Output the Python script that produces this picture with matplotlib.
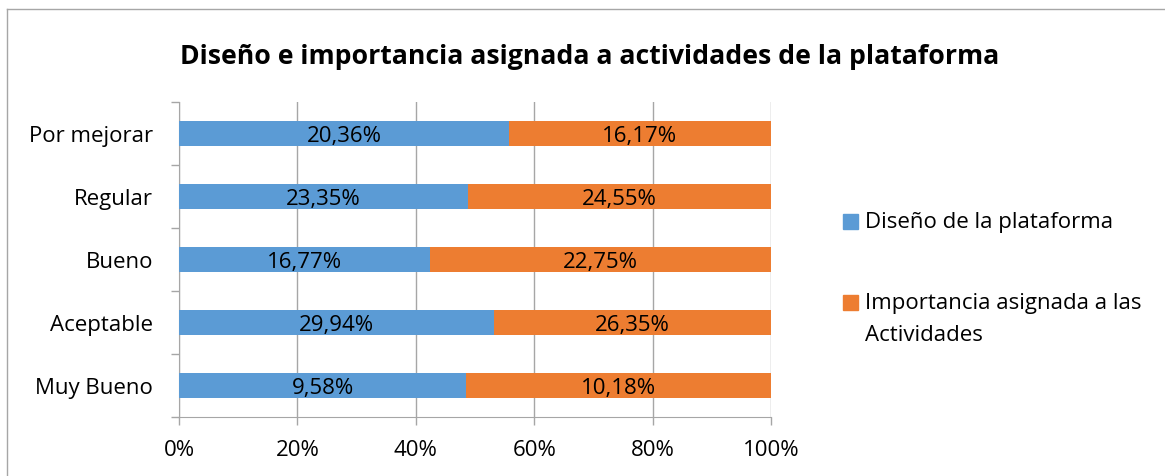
import matplotlib.pyplot as plt
import numpy as np
from matplotlib.patches import Rectangle

plt.rcParams['font.family'] = ['Open Sans', 'DejaVu Sans']

categorias = ["Muy Bueno", "Aceptable", "Bueno", "Regular", "Por mejorar"]
diseno = [9.58, 29.94, 16.77, 23.35, 20.36]
importancia = [10.18, 26.35, 22.75, 24.55, 16.17]
series = ["Diseño de la plataforma", "Importancia asignada a las\nActividades"]
colores = ["#5B9BD5", "#ED7D31"]

fig = plt.figure(figsize=(11.65, 4.77), dpi=100)
ax = fig.add_axes([179 / 1165, 1 - 418 / 477, (771 - 179) / 1165, (418 - 103) / 477])

d = np.array(diseno)
im = np.array(importancia)
tot = d + im
pd_ = d / tot * 100
pi_ = im / tot * 100
y = np.arange(len(categorias))

ax.barh(y, pd_, height=0.4, color=colores[0], label=series[0], zorder=3)
ax.barh(y, pi_, left=pd_, height=0.4, color=colores[1], label=series[1], zorder=3)

fs = 16
for i in range(len(categorias)):
    ax.text(pd_[i] / 2, y[i] - 0.03, f"{diseno[i]:.2f}%".replace(".", ","),
            ha="center", va="center", fontsize=fs, zorder=4)
    ax.text(pd_[i] + pi_[i] / 2, y[i] - 0.03, f"{importancia[i]:.2f}%".replace(".", ","),
            ha="center", va="center", fontsize=fs, zorder=4)

ax.set_xlim(0, 100)
ax.set_ylim(-0.5, len(categorias) - 0.5)
ax.set_xticks(np.arange(0, 101, 20))
ax.set_xticklabels([f"{v}%" for v in range(0, 101, 20)], fontsize=fs)
ax.set_yticks(y)
ax.set_yticklabels(categorias, fontsize=fs)
ax.set_yticks(np.arange(-0.5, len(categorias), 1), minor=True)
ax.tick_params(axis="y", which="major", length=0, pad=18.5)
ax.tick_params(axis="y", which="minor", length=6, color="#A6A6A6", width=1)
ax.tick_params(axis="x", length=6, color="#A6A6A6", width=1, pad=10)
ax.grid(axis="x", color="#A6A6A6", linewidth=1, zorder=0)
for s in ["top", "right"]:
    ax.spines[s].set_visible(False)
for s in ["left", "bottom"]:
    ax.spines[s].set_color("#A6A6A6")

fig.text(590 / 1165, 1 - 57 / 477,
         "Diseño e importancia asignada a actividades de la plataforma",
         ha="center", va="center", fontsize=19.2, fontweight="bold")

# leyenda dibujada a mano
ley_y = [222, 303]
for c, s, yy in zip(colores, series, ley_y):
    fig.add_artist(Rectangle((843 / 1165, 1 - (yy + 7.5) / 477), 15 / 1165, 15 / 477,
                             transform=fig.transFigure, color=c))
    fig.text(865 / 1165, 1 - (yy - 10) / 477, s, ha="left", va="top",
             fontsize=fs, linespacing=1.7)

# marco del gráfico
fig.add_artist(plt.Line2D([7 / 1165, 1], [1 - 10 / 477, 1 - 10 / 477],
                          transform=fig.transFigure, color="#A6A6A6", lw=1))
fig.add_artist(plt.Line2D([7 / 1165, 7 / 1165], [0, 1 - 10 / 477],
                          transform=fig.transFigure, color="#A6A6A6", lw=1))

fig.savefig("out.png", dpi=100)
